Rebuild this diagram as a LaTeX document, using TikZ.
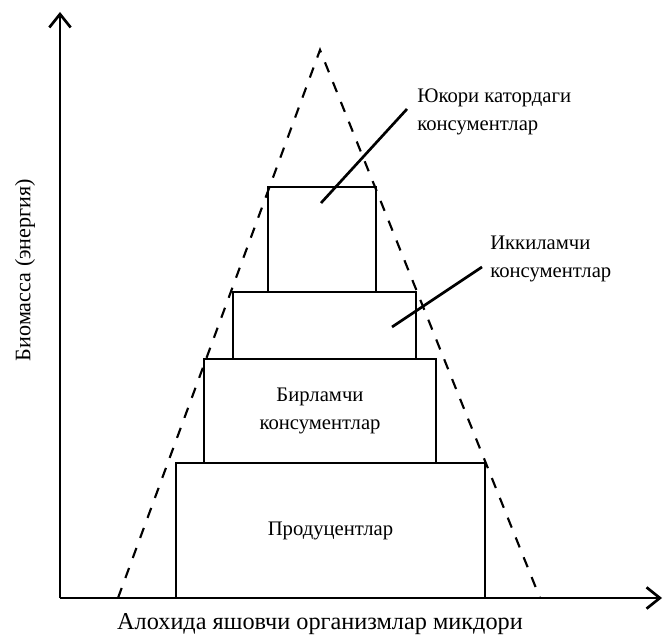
\documentclass[tikz,border=0pt]{standalone}
\usepackage{fontspec}
\setmainfont{Liberation Serif}
\usetikzlibrary{arrows.meta,positioning}
\tikzset{
  axis/.style={
    line width=2.2pt,
    -{Straight Barb[length=10pt,width=16pt,line width=2pt]}
  },
  level/.style={
    draw,
    line width=1.7pt,
    inner sep=0pt,
    outer sep=0pt
  },
  label/.style={
    font=\fontsize{15.5}{21}\selectfont,
    align=left,
    inner sep=0pt
  },
  leader/.style={
    line width=2pt
  },
  contour/.style={
    line width=1.6pt,
    dash pattern=on 8pt off 8pt
  }
}

\begin{document}
\begin{tikzpicture}[x=0.75pt,y=-0.75pt]
\useasboundingbox (0,0) rectangle (664,638);
% axes
\coordinate (o) at (60,598);
\coordinate (ytop) at (60,12);
\coordinate (xend) at (662,598);
\draw[axis] (o) -- (ytop);
\draw[axis] (o) -- (xend);
% dashed triangle
\coordinate (apex) at (320,50);
\coordinate (bl) at (118,598);
\coordinate (br) at (540,598);
\draw[contour] (bl) -- (apex) -- (br);
% levels of the pyramid
\node[level, minimum width=231.75pt, minimum height=101.25pt] (prod) at (330.5,530.5) {};
\node[level, minimum width=174pt, minimum height=78pt] (first) at (320,411) {};
\node[level, minimum width=137.25pt, minimum height=50.25pt] (second) at (324.5,325.5) {};
\node[level, minimum width=81pt, minimum height=78.75pt] (top) at (322,239.5) {};
% texts
\node[label, align=center] at (prod) {Продуцентлар};
\node[label, align=center] at (first) {Бирламчи\\консументлар};
\node[label, anchor=west] (toplbl) at (417,112) {Юкори катордаги\\консументлар};
\node[label, anchor=west] (seclbl) at (490,259) {Иккиламчи\\консументлар};
\node[label, font=\fontsize{16.6}{20}\selectfont, rotate=90] (ylbl) at (25,270) {Биомасса (энергия)};
\node[label, font=\fontsize{18.2}{20}\selectfont] (xlbl) at (320,624) {Алохида яшовчи организмлар микдори};
% leaders
\coordinate (t1) at (321,203);
\coordinate (t2) at (407,109);
\coordinate (s1) at (392,327);
\coordinate (s2) at (482,267);
\draw[leader] (t1) -- (t2);
\draw[leader] (s1) -- (s2);
\end{tikzpicture}
\end{document}
